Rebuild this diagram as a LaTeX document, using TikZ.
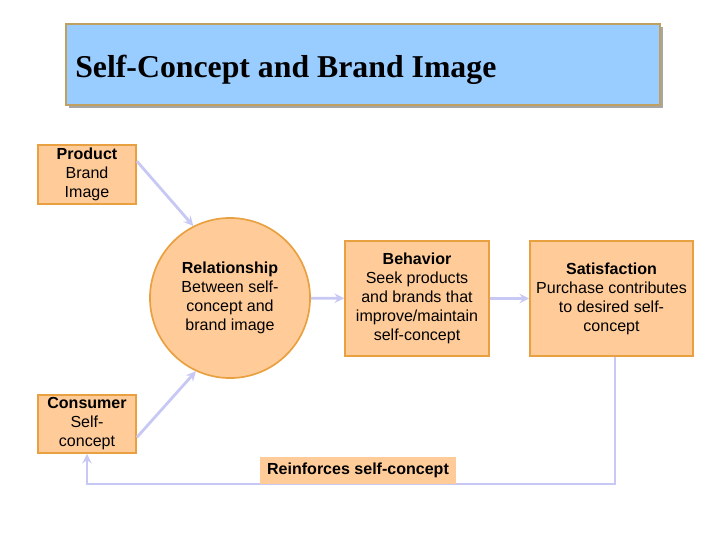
\documentclass[tikz,border=0pt]{standalone}
\usepackage{fontspec}
\setmainfont{Liberation Sans}
\newfontfamily\titlefont{Liberation Serif}
\usetikzlibrary{positioning}

\definecolor{boxfill}{HTML}{FFCC99}
\definecolor{boxline}{HTML}{E8A040}
\definecolor{flowline}{HTML}{C8C8F4}
\definecolor{titlefill}{HTML}{99CCFF}
\definecolor{titleline}{HTML}{C0A060}

\begin{document}
\begin{tikzpicture}[x=0.025cm, y=-0.025cm,
	stage_box/.style={rectangle,draw=boxline,fill=boxfill,line width=1.2pt,align=center,inner sep=1pt,font=\fontsize{11.4}{13.5}\selectfont},
	stage_circle/.style={circle,draw=boxline,fill=boxfill,line width=1.2pt,align=center,minimum size=4cm,inner sep=0pt,font=\fontsize{11.4}{13.5}\selectfont},
	flow/.style={draw=flowline,line width=2pt,->,>=stealth}]

	\useasboundingbox (0,0) rectangle (720,540);

	% title banner
	\fill[gray!70] (69,27) rectangle (663,108);
	\filldraw[fill=titlefill,draw=titleline,line width=1.2pt] (66,24) rectangle (660,105);
	\node[anchor=base west,inner sep=0pt,font=\titlefont\bfseries\fontsize{22.6}{26}\selectfont] (title) at (75,77) {Self-Concept and Brand Image};

	\node[stage_box,minimum width=2.45cm,minimum height=1.475cm] (prod) at (87,174.5) {\textbf{Product}\\Brand\\Image};
	\node[stage_box,minimum width=2.45cm,minimum height=1.45cm] (cons) at (87,424) {\textbf{Consumer}\\Self-\\concept};
	\node[stage_circle] (rel) at (230,298) {\textbf{Relationship}\\Between self-\\concept and\\brand image};
	\node[stage_box,minimum width=3.6cm,minimum height=2.875cm] (beh) at (417,298.5) {\textbf{Behavior}\\Seek products\\and brands that\\improve/maintain\\self-concept};
	\node[stage_box,minimum width=4.075cm,minimum height=2.875cm] (sat) at (611.5,298.5) {\textbf{Satisfaction}\\Purchase contributes\\to desired self-\\concept};

	\coordinate (turn) at (615,484);

	\draw[flow] (prod.15) -- (rel.117);
	\draw[flow] (cons.-15) -- (rel.245);
	\draw[flow] (rel) -- (beh);
	\draw[flow] (beh) -- (sat);
	\draw[flow] (sat.south -| turn) -- (turn) -| (cons.south);

	\node[fill=boxfill,minimum width=4.9cm,minimum height=0.675cm,inner sep=0pt,font=\bfseries\fontsize{11.4}{13.5}\selectfont] (reinf) at (358,470.5) {\raisebox{-2pt}{Reinforces self-concept}};
\end{tikzpicture}
\end{document}
